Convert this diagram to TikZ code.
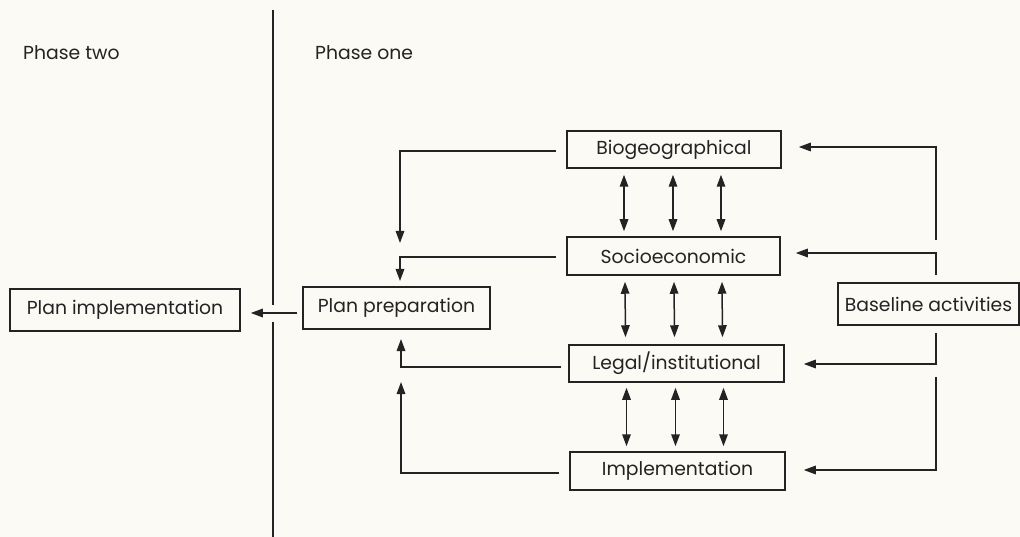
\documentclass[tikz,border=0pt]{standalone}
\usepackage{fontspec}
\setmainfont{Poppins}
\usetikzlibrary{arrows.meta,calc}
\definecolor{paper}{RGB}{251,250,244}
\definecolor{ink}{RGB}{35,35,35}
\tikzset{
  box/.style={draw=ink, line width=1.5pt, rectangle, inner sep=0pt,
              text=ink, font=\fontsize{18.8}{20}\selectfont},
  label/.style={text=ink, font=\fontsize{18.8}{20}\selectfont, anchor=west, inner sep=0pt},
  conn/.style={draw=ink, line width=1.5pt},
  arr/.style={conn, -{Triangle[length=12pt,width=8.5pt]}},
  dbl/.style={conn, {Triangle[length=12pt,width=8.5pt]}-{Triangle[length=12pt,width=8.5pt]}}
}
\begin{document}
\begin{tikzpicture}[x=1pt,y=-1pt]
  \fill[paper] (0,0) rectangle (1020,537);
  \useasboundingbox (0,0) rectangle (1020,537);

  % phase headings and divider
  \node[label] (ptwo) at (23,53) {Phase two};
  \node[label] (pone) at (315,53) {Phase one};
  \coordinate (divtop) at (273,10);
  \coordinate (divgapa) at (273,305);
  \coordinate (divgapb) at (273,322);
  \coordinate (divbot) at (273,537);
  \draw[conn] (divtop) -- (divgapa);
  \draw[conn] (divgapb) -- (divbot);

  % boxes
  \node[box, minimum width=230, minimum height=42] (planimpl) at (125,310) {Plan implementation};
  \node[box, minimum width=187, minimum height=42] (planprep) at (396.5,308) {Plan preparation};
  \node[box, minimum width=214, minimum height=37] (bio) at (674,149.5) {Biogeographical};
  \node[box, minimum width=213, minimum height=38] (socio) at (673.5,256) {Socioeconomic};
  \node[box, minimum width=215, minimum height=37] (legal) at (676.5,363.5) {Legal/institutional};
  \node[box, minimum width=215, minimum height=38] (impl) at (677.5,471) {Implementation};
  \node[box, minimum width=181, minimum height=42] (base) at (928.5,304) {Baseline activities};

  % plan preparation feeds plan implementation (shifts are in page points, up = positive)
  \draw[arr] ([xshift=-5,yshift=-5]planprep.west) -- ([xshift=10,yshift=-3]planimpl.east);

  % links between the four studies
  \foreach \dx in {-50,-1,47} {
    \draw[dbl] ([xshift=\dx,yshift=-6]bio.south) -- ([xshift=\dx+0.5,yshift=5]socio.north);
    \draw[dbl] ([xshift=\dx+1.5,yshift=-6]socio.south) -- ([xshift=\dx-1,yshift=7]legal.north);
    \draw[dbl] ([xshift=\dx,yshift=-5]legal.south) -- ([xshift=\dx-1,yshift=5]impl.north);
  }

  % studies feed plan preparation
  \coordinate (lb) at (400,243);
  \coordinate (ls) at (400,281);
  \coordinate (ll) at (401,339);
  \coordinate (li) at (401,382);
  \draw[arr] ([xshift=-10,yshift=-1.5]bio.west) -| (lb);
  \draw[arr] ([xshift=-10,yshift=-1]socio.west) -| (ls);
  \draw[arr] ([xshift=-7,yshift=-3.5]legal.west) -| (ll);
  \draw[arr] ([xshift=-10,yshift=-2]impl.west) -| (li);

  % baseline activities feed the studies
  \coordinate (rb) at (936,240);
  \coordinate (rs) at (936,275);
  \coordinate (rl) at (936,333);
  \coordinate (ri) at (936,377);
  \draw[arr] (rb) |- ([xshift=17,yshift=2.5]bio.east);
  \draw[arr] (rs) |- ([xshift=15,yshift=3]socio.east);
  \draw[arr] (rl) |- ([xshift=19,yshift=-0.5]legal.east);
  \draw[arr] (ri) |- ([xshift=18,yshift=1]impl.east);
\end{tikzpicture}
\end{document}
